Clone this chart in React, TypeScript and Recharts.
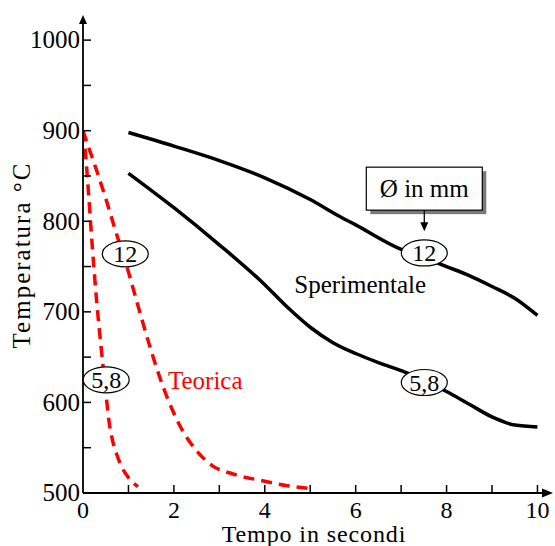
import { LineChart, Line, XAxis, YAxis, ReferenceDot, Customized } from 'recharts';

const FONT = '"Liberation Serif", "Times New Roman", serif';

// tempo (s) / temperatura (°C)
const xTicks = [0, 1, 2, 3, 4, 5, 6, 7, 8, 9, 10];
const yTicks = [500, 550, 600, 650, 700, 750, 800, 850, 900, 950, 1000];

const sperimentale12 = [
  { t: 1, temp: 898 }, { t: 2, temp: 883 }, { t: 3, temp: 867 }, { t: 4, temp: 848 },
  { t: 5, temp: 824 }, { t: 5.66, temp: 805 }, { t: 6, temp: 796 }, { t: 7, temp: 769 },
  { t: 7.5, temp: 760 }, { t: 8, temp: 750 }, { t: 8.5, temp: 740 }, { t: 9, temp: 728 },
  { t: 9.5, temp: 715 }, { t: 10, temp: 696 },
];

const sperimentale58 = [
  { t: 1, temp: 853 }, { t: 2, temp: 815 }, { t: 3, temp: 774 }, { t: 4, temp: 730 },
  { t: 4.5, temp: 705 }, { t: 5, temp: 683 }, { t: 5.5, temp: 666 }, { t: 6, temp: 654 },
  { t: 6.5, temp: 644 }, { t: 7, temp: 635 }, { t: 7.5, temp: 625 }, { t: 8, temp: 612 },
  { t: 8.5, temp: 598 }, { t: 9, temp: 584 }, { t: 9.5, temp: 575 }, { t: 10, temp: 573 },
];

const teorica12 = [
  { t: 0, temp: 900 }, { t: 0.15, temp: 878 }, { t: 0.3, temp: 856 }, { t: 0.52, temp: 822 },
  { t: 0.7, temp: 792 }, { t: 1, temp: 744 }, { t: 1.18, temp: 712 }, { t: 1.3, temp: 691 },
  { t: 1.5, temp: 657 }, { t: 1.75, temp: 619 }, { t: 2, temp: 588 }, { t: 2.2, temp: 568 },
  { t: 2.4, temp: 553 }, { t: 2.85, temp: 530 }, { t: 3.3, temp: 521 }, { t: 4, temp: 513 },
  { t: 4.5, temp: 508 }, { t: 5, temp: 505 },
];

const teorica58 = [
  { t: 0, temp: 900 }, { t: 0.06, temp: 872 }, { t: 0.12, temp: 832 }, { t: 0.2, temp: 775 },
  { t: 0.3, temp: 712 }, { t: 0.4, temp: 660 }, { t: 0.5, temp: 612 }, { t: 0.57, temp: 580 },
  { t: 0.65, temp: 558 }, { t: 0.74, temp: 543 }, { t: 0.85, temp: 529 }, { t: 1, temp: 517 },
  { t: 1.11, temp: 511 }, { t: 1.21, temp: 507 },
];

// etichette ovali dei diametri
const diametri = [
  { t: 0.93, temp: 764, text: '12' },
  { t: 0.51, temp: 625, text: '5,8' },
  { t: 7.51, temp: 765, text: '12' },
  { t: 7.51, temp: 622, text: '5,8' },
];

const X_MARGIN = 8;
const Y_MARGIN = 3;

const XTick = (props: any) => {
  const { x, y, payload } = props;
  const axisY = y - X_MARGIN;
  return (
    <g>
      {payload.value > 0 && (
        <line x1={x} x2={x} y1={axisY} y2={axisY - 8} stroke="#000" strokeWidth={1.5} />
      )}
      {payload.value % 2 === 0 && (
        <text x={x} y={y} dy="0.71em" textAnchor="middle" fontFamily={FONT} fontSize={24} fill="#000">
          {payload.value}
        </text>
      )}
    </g>
  );
};

const YTick = (props: any) => {
  const { x, y, payload } = props;
  const axisX = x + Y_MARGIN;
  return (
    <g>
      {payload.value > 500 && (
        <line x1={axisX} x2={axisX + 8} y1={y} y2={y} stroke="#000" strokeWidth={1.5} />
      )}
      {payload.value % 100 === 0 && (
        <text x={x} y={y} dy="0.33em" textAnchor="end" fontFamily={FONT} fontSize={25} fill="#000">
          {payload.value}
        </text>
      )}
    </g>
  );
};

const ovale = (text: string) => (props: any) => {
  const { cx, cy } = props;
  return (
    <g>
      <ellipse cx={cx} cy={cy} rx={23} ry={13} fill="#fff" stroke="#000" strokeWidth={1.2} />
      <text x={cx} y={cy} dy="0.35em" textAnchor="middle" fontFamily={FONT} fontSize={24} fill="#000">
        {text}
      </text>
    </g>
  );
};

const legendaBox = (props: any) => {
  const { cx, cy } = props;
  const w = 116;
  const h = 43;
  return (
    <g>
      <rect x={cx - w / 2 + 4} y={cy - h / 2 + 4} width={w} height={h} fill="#7a7a7a" />
      <rect x={cx - w / 2} y={cy - h / 2} width={w} height={h} fill="#fff" stroke="#000" strokeWidth={1.2} />
      <text x={cx} y={cy} dy="0.35em" textAnchor="middle" fontFamily={FONT} fontSize={25} fill="#000">
        Ø in mm
      </text>
      <line x1={cx} x2={cx} y1={cy + h / 2} y2={cy + h / 2 + 14} stroke="#000" strokeWidth={1.3} />
      <path d={`M${cx - 4},${cy + h / 2 + 12} L${cx + 4},${cy + h / 2 + 12} L${cx},${cy + h / 2 + 21} Z`} fill="#000" />
    </g>
  );
};

const testo = (text: string, color: string) => (props: any) => (
  <text x={props.cx} y={props.cy} dy="0.35em" textAnchor="middle" fontFamily={FONT} fontSize={25} fill={color}>
    {text}
  </text>
);

const frecciaSu = (props: any) => {
  const { cx, cy } = props;
  return <path d={`M${cx - 4},${cy + 2} L${cx + 4},${cy + 2} L${cx},${cy - 7} Z`} fill="#000" />;
};

const frecciaDestra = (props: any) => {
  const { cx, cy } = props;
  return <path d={`M${cx},${cy - 4.5} L${cx},${cy + 4.5} L${cx + 11},${cy} Z`} fill="#000" />;
};

const TitoliAssi = () => (
  <g fontFamily={FONT} fill="#000">
    <text x={314} y={542} textAnchor="middle" fontSize={24} letterSpacing={0.9}>Tempo in secondi</text>
    <text x={30} y={255} textAnchor="middle" fontSize={25} letterSpacing={2} transform="rotate(-90, 30, 255)">Temperatura °C</text>
  </g>
);

export default function App() {
  return (
    <div style={{ position: 'absolute', left: 0, top: 0, background: '#fff' }}>
      <LineChart width={555} height={546} margin={{ top: 22, right: 13, left: 0, bottom: 0 }}>
        <XAxis
          type="number"
          dataKey="t"
          domain={[0, 10.1]}
          ticks={xTicks}
          height={53}
          tickSize={0}
          tickLine={false}
          tickMargin={X_MARGIN}
          tick={<XTick />}
          axisLine={{ stroke: '#000', strokeWidth: 1.8 }}
          allowDataOverflow
        />
        <YAxis
          type="number"
          dataKey="temp"
          domain={[500, 1020]}
          ticks={yTicks}
          width={83}
          tickSize={0}
          tickLine={false}
          tickMargin={Y_MARGIN}
          tick={<YTick />}
          axisLine={{ stroke: '#000', strokeWidth: 1.8 }}
          allowDataOverflow
        />
        <Line data={sperimentale12} dataKey="temp" type="monotone" stroke="#000" strokeWidth={3.5} dot={false} isAnimationActive={false} />
        <Line data={sperimentale58} dataKey="temp" type="monotone" stroke="#000" strokeWidth={3.5} dot={false} isAnimationActive={false} />
        <Line data={teorica12} dataKey="temp" type="monotone" stroke="#ff0000" strokeWidth={3.5} strokeDasharray="11 7" dot={false} isAnimationActive={false} />
        <Line data={teorica58} dataKey="temp" type="monotone" stroke="#ff0000" strokeWidth={3.5} strokeDasharray="11 7" dot={false} isAnimationActive={false} />

        {diametri.map((d, i) => (
          <ReferenceDot key={i} x={d.t} y={d.temp} ifOverflow="visible" shape={ovale(d.text)} />
        ))}
        <ReferenceDot x={7.51} y={836} ifOverflow="visible" shape={legendaBox} />
        <ReferenceDot x={6.1} y={731} ifOverflow="visible" shape={testo('Sperimentale', '#000')} />
        <ReferenceDot x={2.69} y={625} ifOverflow="visible" shape={testo('Teorica', '#ff0000')} />
        <ReferenceDot x={0} y={1020} ifOverflow="visible" shape={frecciaSu} />
        <ReferenceDot x={10.1} y={500} ifOverflow="visible" shape={frecciaDestra} />
        <Customized component={TitoliAssi} />
      </LineChart>
    </div>
  );
}
